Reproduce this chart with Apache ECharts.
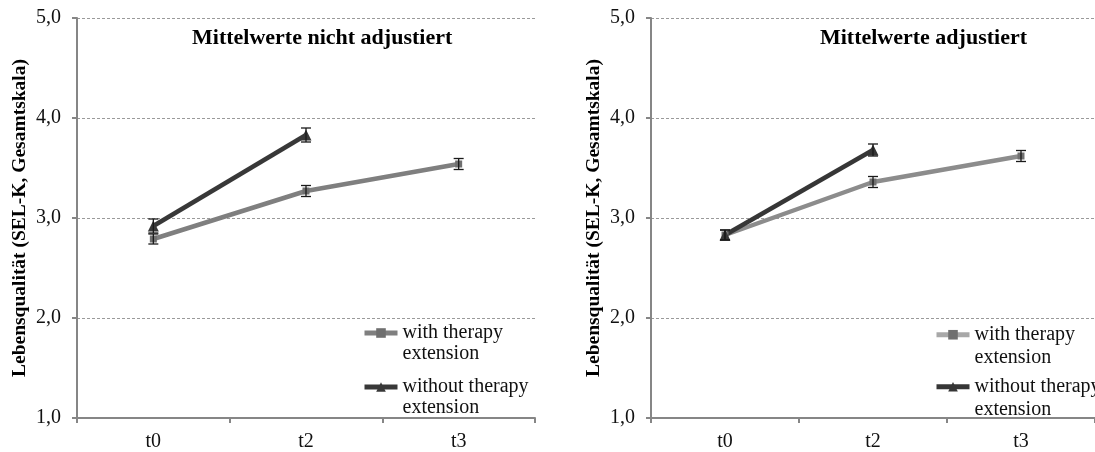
<!DOCTYPE html>
<html><head><meta charset="utf-8">
<script src="https://cdn.jsdelivr.net/npm/echarts@6/dist/echarts.min.js"></script>
<style>html,body{margin:0;padding:0;background:#fff}#c{width:1095px;height:452px}</style>
</head><body><div id="c"></div>
<script>
const categories = ['t0', 't2', 't3'];
const yTicks = [1, 2, 3, 4, 5];
const titleLeft = 'Mittelwerte nicht adjustiert';
const titleRight = 'Mittelwerte adjustiert';
const yName = 'Lebensqualität (SEL-K, Gesamtskala)';
const legendWith = 'with therapy\nextension';
const legendWithout = 'without therapy\nextension';

// left panel (not adjusted)
const leftWith = [2.79, 3.27, 3.54];
const leftWithErr = [0.05, 0.055, 0.055];
const leftWithout = [2.92, 3.83, null];
const leftWithoutErr = [0.07, 0.07, null];
// right panel (adjusted)
const rightWith = [2.83, 3.36, 3.62];
const rightWithErr = [0.05, 0.055, 0.055];
const rightWithout = [2.83, 3.68, null];
const rightWithoutErr = [0.05, 0.06, null];

const FONT = '"Liberation Serif", "Times New Roman", serif';
const names = {L_with: legendWith, L_without: legendWithout, R_with: legendWith, R_without: legendWithout};

function errData(vals, errs) {
  const out = [];
  vals.forEach((v, i) => { if (v != null) out.push([i, v - errs[i], v + errs[i]]); });
  return out;
}
function errSeries(idx, vals, errs) {
  return {
    type: 'custom', xAxisIndex: idx, yAxisIndex: idx, z: 5,
    data: errData(vals, errs), encode: {x: 0, y: [1, 2]},
    renderItem: function (params, api) {
      const lo = api.coord([api.value(0), api.value(1)]);
      const hi = api.coord([api.value(0), api.value(2)]);
      const w = 5;
      const st = {stroke: '#1a1a1a', lineWidth: 1.3};
      return {type: 'group', children: [
        {type: 'line', shape: {x1: lo[0], y1: lo[1], x2: hi[0], y2: hi[1]}, style: st},
        {type: 'line', shape: {x1: lo[0] - w, y1: lo[1], x2: lo[0] + w, y2: lo[1]}, style: st},
        {type: 'line', shape: {x1: hi[0] - w, y1: hi[1], x2: hi[0] + w, y2: hi[1]}, style: st}
      ]};
    }
  };
}
function lineSeries(name, idx, vals, color, symbol, size, symColor) {
  return {
    name: name, type: 'line', xAxisIndex: idx, yAxisIndex: idx, data: vals,
    symbol: symbol, symbolSize: size, z: 3,
    lineStyle: {color: color, width: 4.5},
    itemStyle: {color: symColor || color},
    connectNulls: false
  };
}
function xAx(gi) {
  return {
    type: 'category', gridIndex: gi, data: categories, boundaryGap: true,
    axisLine: {lineStyle: {color: '#868686', width: 2}},
    axisTick: {show: true, length: 5, lineStyle: {color: '#868686', width: 2}},
    axisLabel: {color: '#111', fontFamily: FONT, fontSize: 20, margin: 14}
  };
}
function yAx(gi) {
  return {
    type: 'value', gridIndex: gi, min: 1, max: 5, interval: 1,
    name: yName, nameLocation: 'middle', nameGap: 47, nameRotate: 90,
    nameTextStyle: {fontFamily: FONT, fontWeight: 'bold', fontSize: 19.5, color: '#000'},
    axisLine: {show: true, lineStyle: {color: '#868686', width: 2}},
    axisTick: {show: true, length: 5, lineStyle: {color: '#868686', width: 2}},
    axisLabel: {color: '#111', fontFamily: FONT, fontSize: 20, margin: 16,
      formatter: v => v.toFixed(1).replace('.', ',')},
    splitLine: {show: true, lineStyle: {color: '#9a9a9a', type: [3, 2], width: 1}}
  };
}
function legend(left, top, key, lh, lineColor) {
  return {
    left: left, top: top, orient: 'vertical', padding: 0,
    itemWidth: 33, itemHeight: 12,
    data: [{name: key, lineStyle: {width: 5, color: lineColor}}],
    formatter: n => '\n' + names[n],
    textStyle: {fontFamily: FONT, fontSize: 20, color: '#111', lineHeight: lh}
  };
}

const chart = echarts.init(document.getElementById('c'), null, {renderer: 'canvas'});
chart.setOption({
  animation: false,
  backgroundColor: '#fff',
  title: [
    {text: titleLeft, left: 192, top: 27, padding: 0, textStyle: {fontFamily: FONT, fontWeight: 'bold', fontSize: 22, color: '#000'}},
    {text: titleRight, right: 68, top: 27, padding: 0, textStyle: {fontFamily: FONT, fontWeight: 'bold', fontSize: 22, color: '#000'}}
  ],
  grid: [
    {left: 77, top: 18, width: 458, height: 403},
    {left: 651, top: 18, width: 452, height: 403}
  ],
  xAxis: [xAx(0), xAx(1)],
  yAxis: [yAx(0), yAx(1)],
  legend: [
    legend(362, 301.5, 'L_with', 21, '#7f7f7f'),
    legend(362, 355.5, 'L_without', 21, '#383838'),
    legend(934, 301, 'R_with', 22.5, '#a8a8a8'),
    legend(934, 353, 'R_without', 22.5, '#363636')
  ],
  series: [
    lineSeries('L_with', 0, leftWith, '#7f7f7f', 'rect', 7, '#6f6f6f'),
    lineSeries('L_without', 0, leftWithout, '#383838', 'triangle', 11),
    lineSeries('R_with', 1, rightWith, '#8c8c8c', 'rect', 7, '#707070'),
    lineSeries('R_without', 1, rightWithout, '#363636', 'triangle', 11),
    errSeries(0, leftWith, leftWithErr),
    errSeries(0, leftWithout, leftWithoutErr),
    errSeries(1, rightWith, rightWithErr),
    errSeries(1, rightWithout, rightWithoutErr)
  ]
});
</script></body></html>
